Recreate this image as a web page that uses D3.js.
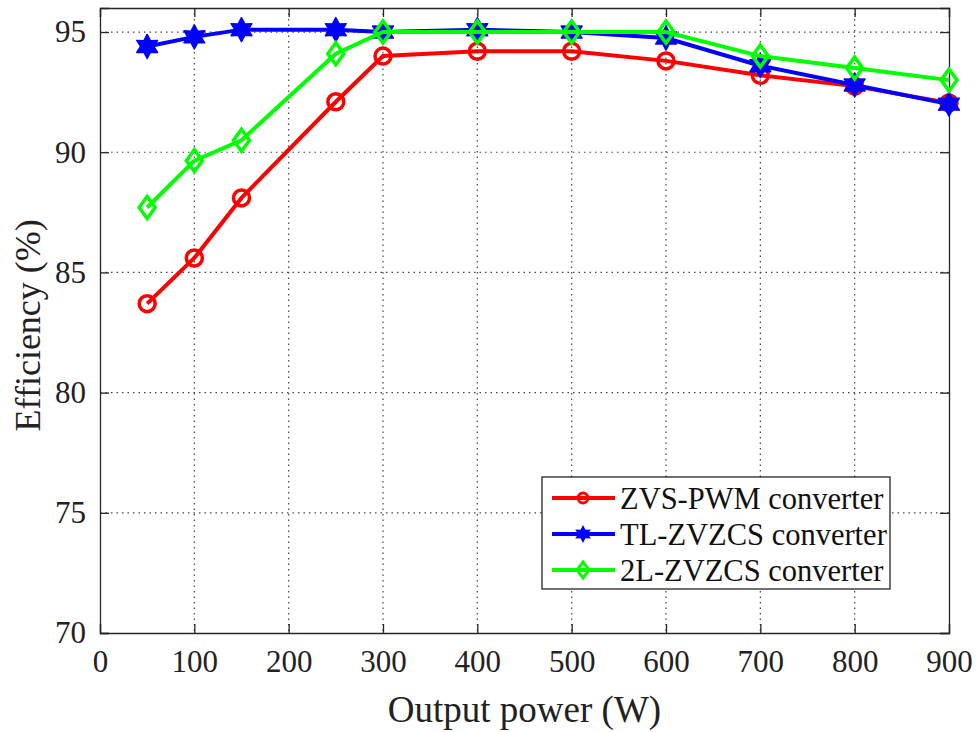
<!DOCTYPE html>
<html>
<head>
<meta charset="utf-8">
<script src="https://cdn.jsdelivr.net/npm/d3@7"></script>
<style>
  body { margin: 0; background: #fff; }
  svg { display: block; }
</style>
</head>
<body>
<script>
(function(){

    var power = [50, 100, 150, 250, 300, 400, 500, 600, 700, 800, 900];
    var zvsPwm = [83.7, 85.6, 88.1, 92.1, 94.0, 94.2, 94.2, 93.8, 93.2, 92.75, 92.05];
    var tlZvzcs = [94.4, 94.8, 95.1, 95.1, 95.0, 95.1, 95.0, 94.75, 93.6, 92.8, 92.0];
    var twoLZvzcs = [87.7, 89.65, 90.5, 94.1, 95.0, 95.0, 95.0, 95.0, 94.0, 93.5, 93.0];
    var seriesNames = ["ZVS-PWM converter", "TL-ZVZCS converter", "2L-ZVZCS converter"];
    var xTicks = [0, 100, 200, 300, 400, 500, 600, 700, 800, 900];
    var yTicks = [70, 75, 80, 85, 90, 95];

    var serif = "'Liberation Serif', 'Times New Roman', serif";

    var width = 977, height = 732;
    var margin = {left: 100, right: 28, top: 8, bottom: 99};

    var svg = d3.select("body").append("svg")
        .attr("width", width)
        .attr("height", height)
        .attr("font-family", serif);

    var x = d3.scaleLinear().domain([0, 900]).range([margin.left, width - margin.right]);
    var y = d3.scaleLinear().domain([70, 96]).range([height - margin.bottom, margin.top]);

    var axisColor = "#262626";

    // grid
    var grid = svg.append("g").attr("class", "grid");
    grid.selectAll(".vgrid")
        .data(xTicks.slice(1, -1))
        .enter().append("line")
        .attr("x1", function(d){ return x(d); })
        .attr("x2", function(d){ return x(d); })
        .attr("y1", y(96)).attr("y2", y(70))
        .attr("stroke", "#444").attr("stroke-width", 1.2)
        .attr("stroke-dasharray", "1.5,4");
    grid.selectAll(".hgrid")
        .data(yTicks.slice(1))
        .enter().append("line")
        .attr("y1", function(d){ return y(d); })
        .attr("y2", function(d){ return y(d); })
        .attr("x1", x(0)).attr("x2", x(900))
        .attr("stroke", "#444").attr("stroke-width", 1.2)
        .attr("stroke-dasharray", "1.5,4");

    // axes (ticks inward, full box)
    var tickLen = 9;
    svg.append("g")
        .attr("transform", "translate(0," + y(70) + ")")
        .call(d3.axisBottom(x).tickValues(xTicks).tickSize(-tickLen).tickPadding(17))
        .call(styleAxis);
    svg.append("g")
        .attr("transform", "translate(0," + y(96) + ")")
        .call(d3.axisTop(x).tickValues(xTicks).tickSize(-tickLen).tickFormat(""))
        .call(styleAxis);
    svg.append("g")
        .attr("transform", "translate(" + x(0) + ",0)")
        .call(d3.axisLeft(y).tickValues(yTicks).tickSize(-tickLen).tickPadding(14))
        .call(styleAxis);
    svg.append("g")
        .attr("transform", "translate(" + x(900) + ",0)")
        .call(d3.axisRight(y).tickValues(yTicks).tickSize(-tickLen).tickFormat(""))
        .call(styleAxis);

    function styleAxis(g){
        g.attr("font-family", serif).attr("font-size", 31);
        g.select(".domain").attr("stroke", axisColor).attr("stroke-width", 1.3);
        g.selectAll(".tick line").attr("stroke", axisColor).attr("stroke-width", 1.3);
        g.selectAll(".tick text").attr("fill", "#222");
    }

    // axis labels
    svg.append("text")
        .attr("x", x(450)).attr("y", 722)
        .attr("text-anchor", "middle")
        .attr("fill", "#222")
        .attr("font-size", 37)
        .text("Output power (W)");
    svg.append("text")
        .attr("transform", "translate(40," + y(82.8) + ") rotate(-90)")
        .attr("text-anchor", "middle")
        .attr("fill", "#222")
        .attr("font-size", 36)
        .text("Efficiency (%)");

    var series = [
        {name: seriesNames[0], values: zvsPwm, color: "#ff0000", marker: "circle"},
        {name: seriesNames[1], values: tlZvzcs, color: "#0000ff", marker: "hexagram"},
        {name: seriesNames[2], values: twoLZvzcs, color: "#00ff00", marker: "diamond"}
    ];

    var line = d3.line()
        .x(function(d){ return x(d[0]); })
        .y(function(d){ return y(d[1]); });

    function hexagram(r){
        var pts = [];
        for (var i = 0; i < 12; i++){
            var a = -Math.PI / 2 + i * Math.PI / 6;
            var rr = i % 2 === 0 ? r : r * 0.55;
            pts.push([rr * Math.cos(a), rr * Math.sin(a)]);
        }
        return "M" + pts.join("L") + "Z";
    }

    function drawMarker(g, type, color){
        if (type === "circle"){
            g.append("circle").attr("r", 8)
                .attr("fill", "none").attr("stroke", color).attr("stroke-width", 3.5);
        } else if (type === "hexagram"){
            g.append("path").attr("d", hexagram(12))
                .attr("fill", color).attr("stroke", color).attr("stroke-width", 1.5)
                .attr("stroke-linejoin", "round");
        } else {
            g.append("path").attr("d", "M0,-11L8,0L0,11L-8,0Z")
                .attr("fill", "none").attr("stroke", color).attr("stroke-width", 3.5)
                .attr("stroke-linejoin", "miter");
        }
    }

    var plot = svg.append("g").attr("class", "plot");
    series.forEach(function(s){
        var pts = power.map(function(p, i){ return [p, s.values[i]]; });
        plot.append("path")
            .datum(pts)
            .attr("d", line)
            .attr("fill", "none")
            .attr("stroke", s.color)
            .attr("stroke-width", 4);
        pts.forEach(function(p){
            var m = plot.append("g")
                .attr("transform", "translate(" + x(p[0]) + "," + y(p[1]) + ")");
            drawMarker(m, s.marker, s.color);
        });
    });

    // legend
    var legend = svg.append("g").attr("transform", "translate(542,477)");
    legend.append("rect")
        .attr("width", 348).attr("height", 112)
        .attr("fill", "#fff")
        .attr("stroke", axisColor).attr("stroke-width", 1.3);
    series.forEach(function(s, i){
        var row = legend.append("g").attr("transform", "translate(0," + (21 + i * 36) + ")");
        row.append("line")
            .attr("x1", 10).attr("x2", 73)
            .attr("stroke", s.color).attr("stroke-width", 4);
        var m = row.append("g").attr("transform", "translate(41,0)");
        if (s.marker === "circle"){
            m.append("circle").attr("r", 5)
                .attr("fill", "none").attr("stroke", s.color).attr("stroke-width", 3);
        } else if (s.marker === "hexagram"){
            m.append("path").attr("d", hexagram(9)).attr("fill", s.color);
        } else {
            m.append("path").attr("d", "M0,-8L6,0L0,8L-6,0Z")
                .attr("fill", "none").attr("stroke", s.color).attr("stroke-width", 3);
        }
        row.append("text")
            .attr("x", 78).attr("y", 0)
            .attr("dy", "0.35em")
            .attr("fill", "#111")
            .attr("font-size", 30.5)
            .text(s.name);
    });

})();
</script>
</body>
</html>
